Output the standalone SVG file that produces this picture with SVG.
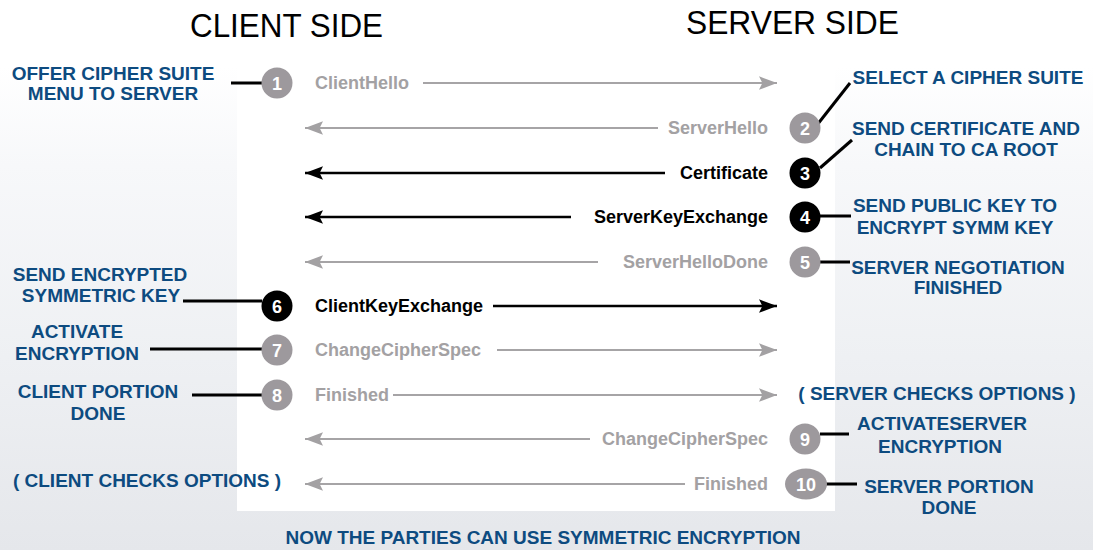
<svg xmlns="http://www.w3.org/2000/svg" width="1093" height="550" viewBox="0 0 1093 550">
<defs>
<linearGradient id="bg" x1="0" y1="0" x2="0" y2="1">
<stop offset="0" stop-color="#ffffff"/>
<stop offset="0.12" stop-color="#ffffff"/>
<stop offset="0.3" stop-color="#f7f8fa"/>
<stop offset="0.65" stop-color="#eef0f3"/>
<stop offset="1" stop-color="#e5e7eb"/>
</linearGradient>
<marker id="ag" markerUnits="userSpaceOnUse" markerWidth="18" markerHeight="14" refX="16" refY="6" orient="auto" viewBox="0 0 16 12">
<path d="M0,0 L16,6 L0,12 L3,6 Z" fill="#a3a1a3"/>
</marker>
<marker id="ab" markerUnits="userSpaceOnUse" markerWidth="18" markerHeight="14" refX="16" refY="6" orient="auto" viewBox="0 0 16 12">
<path d="M0,0 L16,6 L0,12 L3,6 Z" fill="#000"/>
</marker>
</defs>
<style>
.title{font-family:"Liberation Sans",Arial,sans-serif;font-size:33px;fill:#000}
.lbl{font-family:"Liberation Sans",Arial,sans-serif;font-size:19px;font-weight:bold;fill:#0d4b80;text-anchor:middle}
.msg{font-family:"Liberation Sans",Arial,sans-serif;font-size:18px;font-weight:bold}
.mg{fill:#a3a1a3}
.mb{fill:#000}
.num{font-family:"Liberation Sans",Arial,sans-serif;font-size:18px;font-weight:bold;fill:#fff;text-anchor:middle}
.cg{fill:#9d999d}
.cb{fill:#000}
.lg{stroke:#a6a4a6;stroke-width:2;fill:none}
.lb{stroke:#000;stroke-width:2.5;fill:none}
.lead{stroke:#000;stroke-width:3;fill:none}
</style>
<rect x="0" y="0" width="1093" height="550" fill="url(#bg)"/>
<rect x="237" y="0" width="598" height="511" fill="#ffffff"/>

<g id="titles">
<text class="title" x="190" y="37" textLength="193" lengthAdjust="spacingAndGlyphs">CLIENT SIDE</text>
<text class="title" x="686" y="34" textLength="213" lengthAdjust="spacingAndGlyphs">SERVER SIDE</text>
</g>

<g id="connectors">
<line class="lg" x1="423" y1="83" x2="777" y2="83" marker-end="url(#ag)"/>
<line class="lg" x1="658" y1="128" x2="305" y2="128" marker-end="url(#ag)"/>
<line class="lb" x1="665" y1="173" x2="305" y2="173" marker-end="url(#ab)"/>
<line class="lb" x1="571" y1="217" x2="305" y2="217" marker-end="url(#ab)"/>
<line class="lg" x1="598" y1="262" x2="305" y2="262" marker-end="url(#ag)"/>
<line class="lb" x1="493" y1="306" x2="777" y2="306" marker-end="url(#ab)"/>
<line class="lg" x1="497" y1="350" x2="777" y2="350" marker-end="url(#ag)"/>
<line class="lg" x1="393" y1="395" x2="777" y2="395" marker-end="url(#ag)"/>
<line class="lg" x1="590" y1="439" x2="305" y2="439" marker-end="url(#ag)"/>
<line class="lg" x1="685" y1="484" x2="305" y2="484" marker-end="url(#ag)"/>
<line class="lead" x1="231" y1="83" x2="262" y2="83"/>
<line class="lead" x1="817" y1="125" x2="850" y2="83"/>
<line class="lead" x1="820" y1="168" x2="852" y2="140"/>
<line class="lead" x1="820" y1="216" x2="851" y2="216"/>
<line class="lead" x1="820" y1="262" x2="850" y2="262"/>
<line class="lead" x1="183" y1="301" x2="262" y2="301"/>
<line class="lead" x1="150" y1="349" x2="262" y2="349"/>
<line class="lead" x1="192" y1="395" x2="262" y2="395"/>
<line class="lead" x1="820" y1="434" x2="849" y2="434"/>
<line class="lead" x1="826" y1="484" x2="857" y2="484"/>
</g>

<g id="m1"><circle class="cg" cx="277" cy="83" r="15.5"/><text class="num" x="277" y="89.5">1</text><text class="msg mg" x="315" y="89">ClientHello</text></g>
<g id="m2"><circle class="cg" cx="805" cy="128" r="15.5"/><text class="num" x="805" y="134.5">2</text><text class="msg mg" x="768" y="134" text-anchor="end">ServerHello</text></g>
<g id="m3"><circle class="cb" cx="805" cy="173" r="15.5"/><text class="num" x="805" y="179.5">3</text><text class="msg mb" x="768" y="179" text-anchor="end">Certificate</text></g>
<g id="m4"><circle class="cb" cx="805" cy="217" r="15.5"/><text class="num" x="805" y="223.5">4</text><text class="msg mb" x="768" y="223" text-anchor="end">ServerKeyExchange</text></g>
<g id="m5"><circle class="cg" cx="805" cy="262" r="15.5"/><text class="num" x="805" y="268.5">5</text><text class="msg mg" x="768" y="268" text-anchor="end">ServerHelloDone</text></g>
<g id="m6"><circle class="cb" cx="277" cy="306" r="15.5"/><text class="num" x="277" y="312.5">6</text><text class="msg mb" x="315" y="312">ClientKeyExchange</text></g>
<g id="m7"><circle class="cg" cx="277" cy="350" r="15.5"/><text class="num" x="277" y="356.5">7</text><text class="msg mg" x="315" y="356">ChangeCipherSpec</text></g>
<g id="m8"><circle class="cg" cx="277" cy="395" r="15.5"/><text class="num" x="277" y="401.5">8</text><text class="msg mg" x="315" y="401">Finished</text></g>
<g id="m9"><circle class="cg" cx="805" cy="439" r="15.5"/><text class="num" x="805" y="445.5">9</text><text class="msg mg" x="768" y="445" text-anchor="end">ChangeCipherSpec</text></g>
<g id="m10"><ellipse class="cg" cx="806" cy="484" rx="21" ry="15.5"/><text class="num" x="806" y="490.5">10</text><text class="msg mg" x="768" y="490" text-anchor="end">Finished</text></g>

<g id="n-offer"><text class="lbl" x="113" y="80">OFFER CIPHER SUITE</text><text class="lbl" x="113" y="100">MENU TO SERVER</text></g>
<g id="n-select"><text class="lbl" x="968" y="84">SELECT A CIPHER SUITE</text></g>
<g id="n-cert"><text class="lbl" x="966" y="135">SEND CERTIFICATE AND</text><text class="lbl" x="966" y="156">CHAIN TO CA ROOT</text></g>
<g id="n-pubkey"><text class="lbl" x="955" y="212">SEND PUBLIC KEY TO</text><text class="lbl" x="955" y="234">ENCRYPT SYMM KEY</text></g>
<g id="n-negdone"><text class="lbl" x="958" y="274">SERVER NEGOTIATION</text><text class="lbl" x="958" y="294">FINISHED</text></g>
<g id="n-sendkey"><text class="lbl" x="100" y="281">SEND ENCRYPTED</text><text class="lbl" x="101" y="302">SYMMETRIC KEY</text></g>
<g id="n-activate"><text class="lbl" x="77" y="338">ACTIVATE</text><text class="lbl" x="77" y="360">ENCRYPTION</text></g>
<g id="n-clientdone"><text class="lbl" x="98" y="398">CLIENT PORTION</text><text class="lbl" x="98" y="420">DONE</text></g>
<g id="n-servercheck"><text class="lbl" x="937" y="400">( SERVER CHECKS OPTIONS )</text></g>
<g id="n-activateserver"><text class="lbl" x="942" y="430">ACTIVATESERVER</text><text class="lbl" x="940" y="453">ENCRYPTION</text></g>
<g id="n-clientcheck"><text class="lbl" x="147" y="487">( CLIENT CHECKS OPTIONS )</text></g>
<g id="n-serverdone"><text class="lbl" x="949" y="493">SERVER PORTION</text><text class="lbl" x="949" y="514">DONE</text></g>
<g id="n-now"><text class="lbl" x="543" y="544">NOW THE PARTIES CAN USE SYMMETRIC ENCRYPTION</text></g>
</svg>
